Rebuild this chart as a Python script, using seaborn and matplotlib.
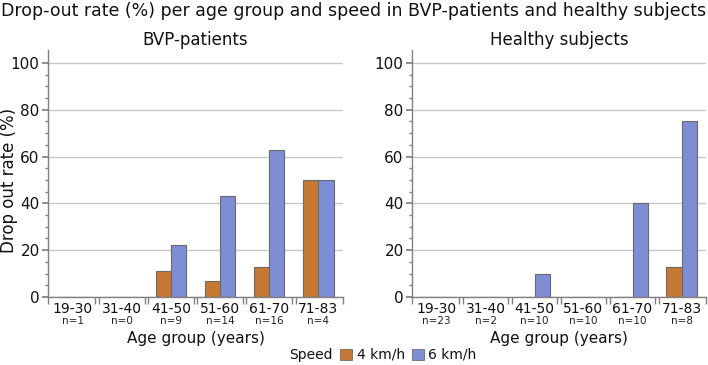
import numpy as np
import pandas as pd
import matplotlib
matplotlib.use("Agg")
import matplotlib.pyplot as plt
import matplotlib.transforms as mtransforms
from matplotlib.patches import Patch
import seaborn as sns

age_groups = ["19-30", "31-40", "41-50", "51-60", "61-70", "71-83"]
speeds = ["4 km/h", "6 km/h"]
bvp_4 = [0, 0, 11, 7, 13, 50]
bvp_6 = [0, 0, 22, 43, 63, 50]
bvp_n = [1, 0, 9, 14, 16, 4]
healthy_4 = [0, 0, 0, 0, 0, 13]
healthy_6 = [0, 0, 10, 0, 40, 75]
healthy_n = [23, 2, 10, 10, 10, 8]
panel_titles = ["BVP-patients", "Healthy subjects"]
colors = ["#C77832", "#7D8DD6"]

sns.set_theme(style="white")
plt.rcParams['font.family'] = ['DejaVu Sans']

def long_df(v4, v6):
    return pd.DataFrame({
        "age": age_groups * 2,
        "speed": [speeds[0]] * len(age_groups) + [speeds[1]] * len(age_groups),
        "rate": list(v4) + list(v6),
    })

W, H = 708, 365
fig = plt.figure(figsize=(W / 100, H / 100), dpi=100)
ax1 = fig.add_axes([48 / W, 1 - 297 / H, 295 / W, 247 / H])
ax2 = fig.add_axes([412 / W, 1 - 297 / H, 294 / W, 247 / H])

for ax, v4, v6, ns, title in [(ax1, bvp_4, bvp_6, bvp_n, panel_titles[0]),
                               (ax2, healthy_4, healthy_6, healthy_n, panel_titles[1])]:
    df = long_df(v4, v6)
    sns.barplot(data=df, x="age", y="rate", hue="speed", palette=colors,
                order=age_groups, hue_order=speeds, width=0.62, ax=ax,
                edgecolor="#6a6a6a", linewidth=0.8, legend=False, saturation=1)
    ax.set_ylim(0, 105.5)
    ax.set_xlim(-0.5, 5.5)
    ax.set_yticks([0, 20, 40, 60, 80, 100])
    ax.set_yticks([v for v in np.arange(5, 105, 5) if v % 20 != 0], minor=True)
    ax.yaxis.grid(True, color="#c8c8c8", linewidth=1.0)
    ax.set_axisbelow(True)
    for s in ["top", "right"]:
        ax.spines[s].set_visible(False)
    for s in ["left", "bottom"]:
        ax.spines[s].set_color("#808080")
        ax.spines[s].set_linewidth(1.0)
    ax.tick_params(axis="y", which="major", left=True, length=4, color="#808080",
                   labelsize=11, pad=2, labelcolor="#111111")
    ax.tick_params(axis="y", which="minor", left=True, length=2, color="#808080")
    ax.tick_params(axis="x", which="major", bottom=False, length=0, labelsize=10, pad=3.5,
                   labelcolor="#111111")
    bounds = []
    for b in np.arange(-0.5, 6.0, 1.0):
        if -0.5 < b < 5.5:
            bounds += [b - 0.035, b + 0.035]
        else:
            bounds.append(b)
    ax.set_xticks(bounds, minor=True)
    ax.tick_params(axis="x", which="minor", bottom=True, length=5, color="#808080",
                   direction="out")
    ax.set_xlabel("")
    ax.set_ylabel("")
    trans = mtransforms.blended_transform_factory(ax.transData, fig.transFigure)
    for i, n in enumerate(ns):
        ax.text(i, 1 - 321 / H, f"n={n}", transform=trans, ha="center", va="center",
                fontsize=7.5, color="#222222")
    ax.text(0.5, 1 - 338 / H, "Age group (years)", transform=mtransforms.blended_transform_factory(ax.transAxes, fig.transFigure),
            ha="center", va="center", fontsize=11, color="#111111")
    ax.text(0.5, 1 - 40 / H, title, transform=mtransforms.blended_transform_factory(ax.transAxes, fig.transFigure),
            ha="center", va="center", fontsize=12, color="#111111")

fig.text(9 / W, 1 - 180 / H, "Drop out rate (%)", rotation=90, ha="center", va="center",
         fontsize=12, color="#111111")

fig.text(354 / W, 1 - 11 / H, "Drop-out rate (%) per age group and speed in BVP-patients and healthy subjects",
         ha="center", va="center", fontsize=12.5, color="#111111")

handles = [Patch(facecolor=colors[0], edgecolor="#6a6a6a", linewidth=0.6, label=speeds[0]),
           Patch(facecolor=colors[1], edgecolor="#6a6a6a", linewidth=0.6, label=speeds[1])]
leg = fig.legend(handles=handles, labels=speeds, loc="center left", bbox_to_anchor=(340 / W, 1 - 355 / H),
                 ncol=2, frameon=False, fontsize=10, handlelength=0.85, handleheight=0.85,
                 handletextpad=0.35, columnspacing=0.5, borderpad=0, borderaxespad=0)
for t in leg.get_texts():
    t.set_color("#111111")
fig.text(333 / W, 1 - 355 / H, "Speed", ha="right", va="center", fontsize=10, color="#111111")

fig.savefig("out.png", dpi=100)
